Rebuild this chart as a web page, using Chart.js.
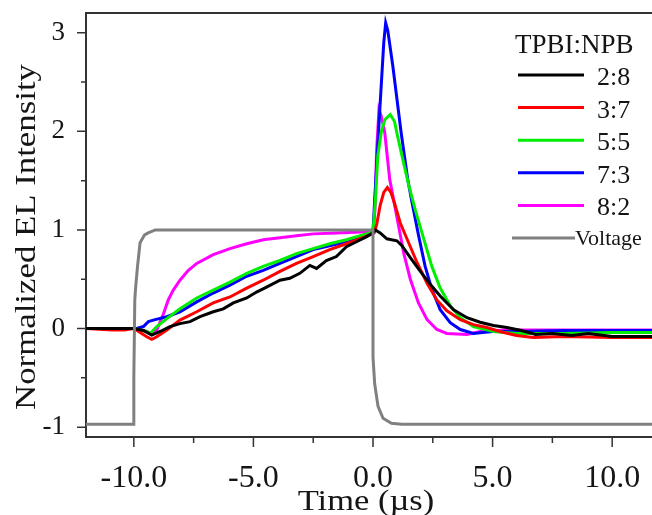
<!DOCTYPE html>
<html>
<head>
<meta charset="utf-8">
<script src="https://cdn.jsdelivr.net/npm/chart.js@4"></script>
<style>
  html, body { margin: 0; padding: 0; overflow: hidden; background: #fff; }
  canvas { display: block; }
</style>
</head>
<body>
<canvas id="chart" width="662" height="515"></canvas>
<script>
// tick values
const xTicks = [-10, -5, 0, 5, 10];
const xMinorTicks = [-7.5, -2.5, 2.5, 7.5];
const yTicks = [-1, 0, 1, 2, 3];
const yMinorTicks = [-0.5, 0.5, 1.5, 2.5];

const legendTitle = "TPBI:NPB";
const seriesNames = ["2:8", "3:7", "5:5", "7:3", "8:2", "Voltage"];

// 2:8 (black)
const t28 = [-12, -10, -9.6, -9.25, -8.9, -8.49, -8.07, -7.65, -7.23, -6.68, -6.26, -5.84, -5.28, -4.87, -4.45, -3.89, -3.48, -3.06, -2.64, -2.36, -1.95, -1.53, -1.11, -0.69, -0.28, 0, 0.1, 0.3, 0.58, 1.0, 1.21, 1.56, 1.98, 2.39, 2.81, 3.37, 3.93, 4.48, 5.04, 5.6, 6.2, 6.8, 7.5, 8.3, 9.0, 10.0, 11.0, 12];
const v28 = [0, 0, -0.02, -0.066, -0.03, 0.02, 0.05, 0.07, 0.12, 0.17, 0.2, 0.26, 0.31, 0.37, 0.42, 0.49, 0.51, 0.56, 0.64, 0.61, 0.69, 0.73, 0.83, 0.88, 0.93, 0.97, 1.0, 0.97, 0.91, 0.89, 0.84, 0.72, 0.58, 0.45, 0.33, 0.19, 0.11, 0.064, 0.03, 0.01, -0.02, -0.06, -0.05, -0.07, -0.05, -0.08, -0.08, -0.08];

// 3:7 (red)
const t37 = [-12, -10.9, -10.4, -10, -9.46, -9.25, -9.04, -8.62, -8.07, -7.37, -6.68, -5.98, -5.28, -4.59, -3.89, -3.2, -2.5, -1.81, -1.11, -0.56, -0.14, 0.05, 0.15, 0.3, 0.45, 0.6, 0.75, 0.9, 1.14, 1.49, 1.84, 2.26, 2.67, 3.09, 3.65, 4.2, 4.76, 5.3, 6.0, 6.7, 8.0, 10.0, 12];
const v37 = [0, -0.015, -0.015, 0, -0.083, -0.11, -0.083, -0.015, 0.086, 0.17, 0.26, 0.32, 0.41, 0.49, 0.58, 0.66, 0.73, 0.8, 0.86, 0.91, 0.95, 0.97, 1.05, 1.25, 1.38, 1.43, 1.38, 1.27, 1.07, 0.87, 0.67, 0.46, 0.29, 0.18, 0.09, 0.04, 0.01, -0.03, -0.07, -0.09, -0.08, -0.09, -0.09];

// 5:5 (green)
const t55 = [-12, -10, -9.46, -9.32, -9.04, -8.62, -8.07, -7.37, -6.68, -5.98, -5.28, -4.59, -3.89, -3.2, -2.5, -1.81, -1.11, -0.28, 0, 0.1, 0.2, 0.35, 0.5, 0.72, 0.9, 1.0, 1.25, 1.5, 1.77, 2.11, 2.46, 2.81, 3.23, 3.65, 4.2, 5.04, 6.0, 8.0, 10.0, 12];
const v55 = [0, 0, -0.03, -0.05, 0.02, 0.1, 0.2, 0.31, 0.39, 0.47, 0.56, 0.63, 0.69, 0.76, 0.81, 0.86, 0.9, 0.96, 0.98, 1.3, 1.75, 2.0, 2.12, 2.17, 2.1, 1.98, 1.71, 1.45, 1.2, 0.92, 0.63, 0.41, 0.23, 0.11, 0.02, -0.03, -0.05, -0.05, -0.04, -0.04];

// 7:3 (blue)
const t73 = [-12, -10, -9.88, -9.6, -9.39, -9.11, -8.62, -8.07, -7.37, -6.68, -5.98, -5.28, -4.59, -3.89, -3.2, -2.5, -1.81, -1.11, -0.28, 0, 0.07, 0.28, 0.45, 0.53, 0.62, 0.83, 1.18, 1.46, 1.63, 1.9, 2.18, 2.46, 2.81, 3.23, 3.65, 4.2, 5.0, 6.0, 8.0, 10.0, 12];
const v73 = [0, 0, 0, 0.02, 0.07, 0.09, 0.12, 0.17, 0.27, 0.36, 0.44, 0.53, 0.59, 0.66, 0.73, 0.8, 0.84, 0.88, 0.95, 0.98, 1.3, 2.2, 2.9, 3.1, 3.02, 2.66, 1.98, 1.5, 1.28, 0.95, 0.63, 0.4, 0.19, 0.06, -0.01, -0.05, -0.03, -0.03, -0.02, -0.02, -0.02];

// 8:2 (magenta)
const t82 = [-12, -10, -9.74, -9.46, -9.25, -9.04, -8.76, -8.56, -8.35, -8.07, -7.72, -7.37, -6.68, -5.98, -5.28, -4.59, -3.89, -3.2, -2.5, -1.53, -0.5, 0, 0.08, 0.15, 0.25, 0.35, 0.49, 0.7, 0.86, 1.07, 1.28, 1.56, 1.9, 2.26, 2.67, 3.09, 3.93, 4.48, 5.5, 8.0, 12];
const v82 = [0, 0, -0.015, -0.03, -0.056, -0.015, 0.15, 0.29, 0.39, 0.49, 0.59, 0.66, 0.75, 0.81, 0.86, 0.9, 0.92, 0.94, 0.96, 0.97, 0.98, 0.98, 1.2, 1.8, 2.22, 2.15, 1.99, 1.51, 1.31, 1.04, 0.77, 0.5, 0.26, 0.09, -0.01, -0.05, -0.06, -0.03, -0.015, -0.015, -0.015];

// Voltage (gray)
const tVolt = [-12, -10, -10, -9.96, -9.93, -9.85, -9.74, -9.55, -9.4, -9.1, 0, 0, 0.07, 0.21, 0.42, 0.77, 1.2, 12];
const vVolt = [-0.97, -0.97, -0.5, 0.29, 0.4, 0.62, 0.87, 0.95, 0.97, 1.0, 1.0, -0.29, -0.56, -0.79, -0.91, -0.96, -0.97, -0.97];

const colors = ["#000000", "#ff0000", "#00ee00", "#0000ff", "#ff00ff", "#808080"];
const serif = '"Liberation Serif", "DejaVu Serif", serif';
const textColor = "#151515";

const seriesT = [t28, t37, t55, t73, t82, tVolt];
const seriesV = [v28, v37, v55, v73, v82, vVolt];

const datasets = seriesNames.map((name, i) => ({
  label: name,
  data: seriesT[i].map((t, k) => ({ x: t, y: seriesV[i][k] })),
  borderColor: colors[i],
  borderWidth: 3,
  pointRadius: 0,
  tension: 0,
  fill: false,
  order: name === "Voltage" ? 0 : 1,
}));

// frame, minor ticks, axis titles and legend
const decorPlugin = {
  id: "decor",
  afterDraw(chart) {
    const { ctx, chartArea: a, scales: { x, y } } = chart;
    ctx.save();
    ctx.strokeStyle = "#333";
    ctx.lineWidth = 2;
    ctx.beginPath();
    ctx.moveTo(a.left, a.top);
    ctx.lineTo(a.right, a.top);
    ctx.lineTo(a.right, a.bottom);
    ctx.stroke();

    ctx.lineWidth = 1.5;
    ctx.beginPath();
    for (const v of yTicks) {
      const py = y.getPixelForValue(v);
      ctx.moveTo(a.left - 9, py);
      ctx.lineTo(a.left, py);
    }
    for (const v of yMinorTicks) {
      const py = y.getPixelForValue(v);
      ctx.moveTo(a.left - 5, py);
      ctx.lineTo(a.left, py);
    }
    for (const t of xTicks) {
      const px = x.getPixelForValue(t);
      ctx.moveTo(px, a.bottom);
      ctx.lineTo(px, a.bottom + 10);
    }
    for (const t of xMinorTicks) {
      const px = x.getPixelForValue(t);
      ctx.moveTo(px, a.bottom);
      ctx.lineTo(px, a.bottom + 6);
    }
    ctx.stroke();

    // axis titles (a bit wide, like the original)
    ctx.fillStyle = textColor;
    ctx.textAlign = "center";
    ctx.textBaseline = "alphabetic";
    ctx.font = `30px ${serif}`;
    ctx.save();
    ctx.translate(366, 510);
    ctx.scale(1.15, 1);
    ctx.fillText("Time (\u00b5s)", 0, 0);
    ctx.restore();

    ctx.save();
    ctx.translate(35, 237);
    ctx.rotate(-Math.PI / 2);
    ctx.scale(1.16, 1);
    ctx.fillText("Normalized EL Intensity", 0, 0);
    ctx.restore();

    // legend
    ctx.textAlign = "left";
    ctx.font = `27px ${serif}`;
    ctx.fillText(legendTitle, 515, 53);
    ctx.lineWidth = 3;
    chart.data.datasets.forEach((ds, i) => {
      const isVolt = ds.label === "Voltage";
      const ly = isVolt ? 238 : 75 + i * 32.6;
      ctx.strokeStyle = ds.borderColor;
      ctx.beginPath();
      ctx.moveTo(isVolt ? 512 : 518, ly);
      ctx.lineTo(isVolt ? 575 : 584, ly);
      ctx.stroke();
      ctx.font = isVolt ? `22px ${serif}` : `26px ${serif}`;
      ctx.fillText(ds.label, isVolt ? 575 : 597, ly + (isVolt ? 7 : 10));
    });
    ctx.restore();
  },
};

new Chart(document.getElementById("chart"), {
  type: "line",
  data: { datasets },
  options: {
    responsive: false,
    animation: false,
    parsing: false,
    layout: { padding: { top: 13, right: 2, left: 0, bottom: 0 } },
    plugins: { legend: { display: false }, tooltip: { enabled: false } },
    scales: {
      x: {
        type: "linear",
        min: -12,
        max: 12,
        grid: { display: false, drawTicks: false },
        border: { display: true, color: "#333", width: 2 },
        ticks: {
          padding: 22,
          color: textColor,
          font: { family: serif, size: 32 },
          callback: (v) => Number(v).toFixed(1),
        },
        afterBuildTicks: (s) => { s.ticks = xTicks.map((value) => ({ value })); },
        afterFit: (s) => { s.height = 78; s.paddingLeft = 0; s.paddingRight = 0; },
      },
      y: {
        type: "linear",
        min: -1.1,
        max: 3.2,
        grid: { display: false, drawTicks: false },
        border: { display: true, color: "#333", width: 2 },
        ticks: {
          padding: 21,
          color: textColor,
          font: { family: serif, size: 27 },
          callback: (v) => String(v),
        },
        afterBuildTicks: (s) => { s.ticks = yTicks.map((value) => ({ value })); },
        afterFit: (s) => { s.width = 86; s.paddingTop = 0; s.paddingBottom = 0; },
      },
    },
  },
  plugins: [decorPlugin],
});
</script>
</body>
</html>
